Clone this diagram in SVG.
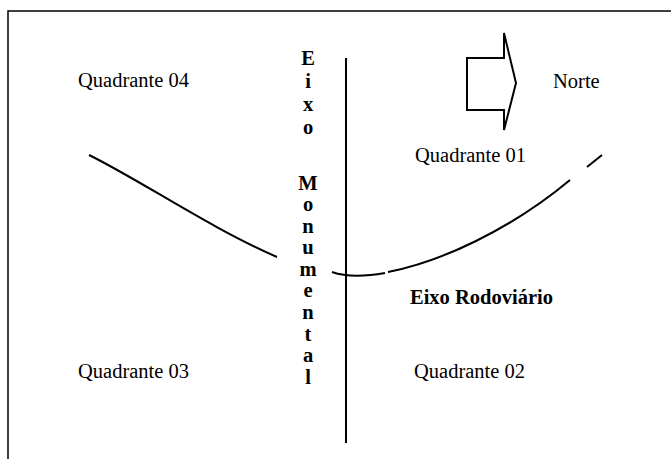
<svg xmlns="http://www.w3.org/2000/svg" width="671" height="459" viewBox="0 0 671 459">
<style>
.t{font-family:"Liberation Serif","Times New Roman",serif;font-size:20.5px;fill:#000}
.b{font-family:"Liberation Serif","Times New Roman",serif;font-size:20.5px;font-weight:bold;fill:#000}
.v{font-family:"Liberation Serif","Times New Roman",serif;font-size:20.5px;font-weight:bold;fill:#000;text-anchor:middle}
.ln{fill:none;stroke:#000;stroke-width:2}
</style>
<rect width="671" height="459" fill="#fff"/>
<rect id="frame" x="8" y="11" width="700" height="500" fill="none" stroke="#000" stroke-width="1.5"/>
<g id="connectors">
<line class="ln" x1="346" y1="58" x2="346" y2="443"/>
<path class="ln" d="M89,155 C140,180 210,228 277,257"/>
<path class="ln" d="M332,272 Q352,279 385,273"/>
<path class="ln" d="M388,272 C440,262 510,230 570,180"/>
<line class="ln" x1="587" y1="167" x2="602" y2="155"/>
</g>
<g id="arrow">
<polygon points="467,58 504,58 504,33 516,83 504,130 504,110 467,110" fill="#fff" stroke="#000" stroke-width="2"/>
</g>
<g id="norte"><text class="t" x="553" y="88">Norte</text></g>
<g id="q04"><text class="t" x="78" y="87">Quadrante 04</text></g>
<g id="q01"><text class="t" x="415" y="162">Quadrante 01</text></g>
<g id="q03"><text class="t" x="78" y="378">Quadrante 03</text></g>
<g id="q02"><text class="t" x="414" y="378">Quadrante 02</text></g>
<g id="rodoviario"><text class="b" x="410" y="304">Eixo Rodoviário</text></g>
<g id="monumental">
<text class="v" x="308" y="65">E</text>
<text class="v" x="308" y="88">i</text>
<text class="v" x="308" y="111">x</text>
<text class="v" x="308" y="134">o</text>
<text class="v" x="308" y="190">M</text>
<text class="v" x="308" y="211">o</text>
<text class="v" x="308" y="233">n</text>
<text class="v" x="308" y="254">u</text>
<text class="v" x="308" y="276">m</text>
<text class="v" x="308" y="297">e</text>
<text class="v" x="308" y="319">n</text>
<text class="v" x="308" y="341">t</text>
<text class="v" x="308" y="362">a</text>
<text class="v" x="308" y="384">l</text>
</g>
</svg>
